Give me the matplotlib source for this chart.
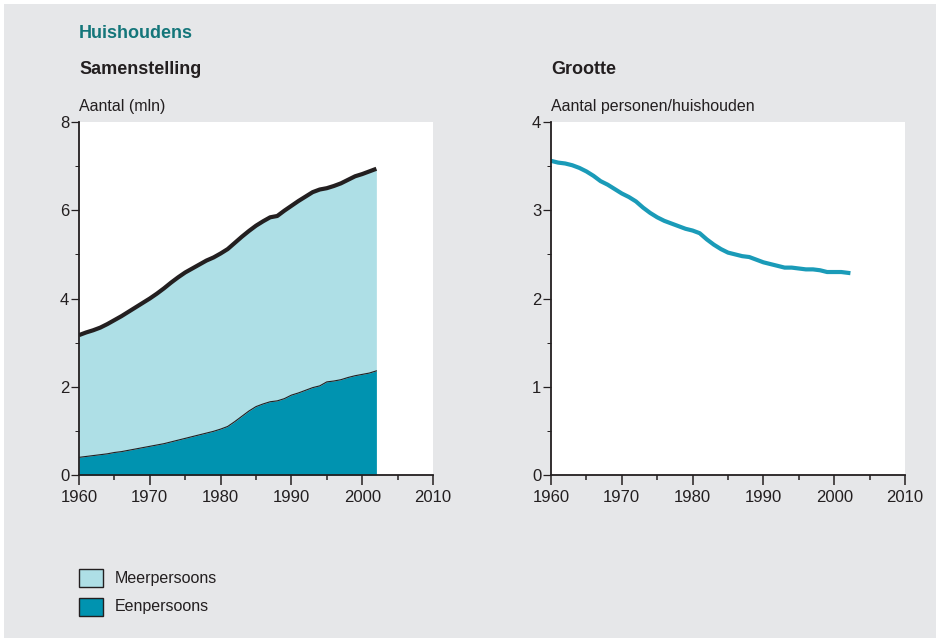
import matplotlib
matplotlib.use("Agg")
import matplotlib.pyplot as plt
from matplotlib.patches import Rectangle
from matplotlib.ticker import MultipleLocator

plt.rcParams['font.family'] = ['Liberation Sans', 'DejaVu Sans']

years = list(range(1960, 2003))
totaal = [3.17, 3.23, 3.28, 3.34, 3.42, 3.51, 3.60, 3.70, 3.80, 3.90,
          4.00, 4.11, 4.23, 4.36, 4.48, 4.59, 4.68, 4.77, 4.86, 4.93,
          5.02, 5.12, 5.26, 5.40, 5.53, 5.65, 5.75, 5.84, 5.87, 5.99,
          6.10, 6.21, 6.31, 6.41, 6.47, 6.50, 6.55, 6.61, 6.69, 6.77,
          6.82, 6.88, 6.94]
eenpersoons = [0.40, 0.42, 0.44, 0.46, 0.48, 0.51, 0.53, 0.56, 0.59, 0.62,
               0.65, 0.68, 0.71, 0.75, 0.79, 0.83, 0.87, 0.91, 0.95, 0.99,
               1.04, 1.10, 1.21, 1.33, 1.45, 1.55, 1.61, 1.66, 1.68, 1.73,
               1.81, 1.86, 1.92, 1.98, 2.02, 2.11, 2.13, 2.16, 2.21, 2.25,
               2.28, 2.31, 2.36]
grootte = [3.56, 3.54, 3.53, 3.51, 3.48, 3.44, 3.39, 3.33, 3.29, 3.24,
           3.19, 3.15, 3.10, 3.03, 2.97, 2.92, 2.88, 2.85, 2.82, 2.79,
           2.77, 2.74, 2.67, 2.61, 2.56, 2.52, 2.50, 2.48, 2.47, 2.44,
           2.41, 2.39, 2.37, 2.35, 2.35, 2.34, 2.33, 2.33, 2.32, 2.30,
           2.30, 2.30, 2.29]
legend_labels = ["Meerpersoons", "Eenpersoons"]

BG = "#e6e7e9"
LIGHT = "#aedfe6"
DARK = "#0093b0"
LINE = "#1a9bb8"
INK = "#231f20"
TEAL = "#14767a"

fig = plt.figure(figsize=(9.37, 6.38), dpi=100, facecolor="white")
fig.patches.append(Rectangle((4/937, 0), 1, 1 - 4/638, transform=fig.transFigure,
                             facecolor=BG, edgecolor="none", zorder=-10))

def style(ax, ymax):
    ax.set_facecolor("white")
    ax.set_xlim(1960, 2010)
    ax.set_ylim(0, ymax)
    for s in ["top", "right"]:
        ax.spines[s].set_visible(False)
    for s in ["left", "bottom"]:
        ax.spines[s].set_color(INK)
        ax.spines[s].set_linewidth(1.3)
    ax.xaxis.set_major_locator(MultipleLocator(10))
    ax.xaxis.set_minor_locator(MultipleLocator(5))
    ax.yaxis.set_major_locator(MultipleLocator(ymax / 4))
    ax.yaxis.set_minor_locator(MultipleLocator(ymax / 8))
    ax.tick_params(axis="x", which="major", length=7, width=1.1, color=INK,
                   labelsize=12, labelcolor=INK, pad=4)
    ax.tick_params(axis="x", which="minor", length=3.5, width=1.1, color=INK)
    ax.tick_params(axis="y", which="major", length=6, width=0.9, color=INK,
                   labelsize=12, labelcolor=INK, pad=1)
    ax.tick_params(axis="y", which="minor", length=3, width=0.7, color=INK)

# Left chart
ax1 = fig.add_axes([79/937, 1-475/638, 354/937, 353/638])
style(ax1, 8)
ax1.fill_between(years, 0, totaal, color=LIGHT, lw=0)
ax1.fill_between(years, 0, eenpersoons, color=DARK, lw=0)
ax1.plot(years, eenpersoons, color=INK, lw=0.8)
ax1.plot(years, totaal, color=INK, lw=3, solid_capstyle="butt")

# Right chart
ax2 = fig.add_axes([551/937, 1-475/638, 354/937, 353/638])
style(ax2, 4)
ax2.plot(years, grootte, color=LINE, lw=3)

# Texts
fig.text(79/937, 1-34/638, "Huishoudens", color=TEAL, fontsize=13,
         fontweight="bold", va="center", ha="left")
fig.text(79/937, 1-70/638, "Samenstelling", color=INK, fontsize=13,
         fontweight="bold", va="center", ha="left")
fig.text(551/937, 1-70/638, "Grootte", color=INK, fontsize=13,
         fontweight="bold", va="center", ha="left")
fig.text(79/937, 1-107/638, "Aantal (mln)", color=INK, fontsize=11.5,
         va="center", ha="left")
fig.text(551/937, 1-107/638, "Aantal personen/huishouden", color=INK,
         fontsize=11.5, va="center", ha="left")

# Legend
for i, (lab, col) in enumerate(zip(legend_labels, [LIGHT, DARK])):
    y = 578 + i * 29
    fig.patches.append(Rectangle((79/937, 1-(y+9)/638), 24/937, 18/638,
                                 transform=fig.transFigure, facecolor=col,
                                 edgecolor=INK, lw=1))
    fig.text(115/937, 1-y/638, lab, color=INK, fontsize=11.5,
             va="center", ha="left")

fig.savefig("out.png", dpi=100, facecolor="white")
